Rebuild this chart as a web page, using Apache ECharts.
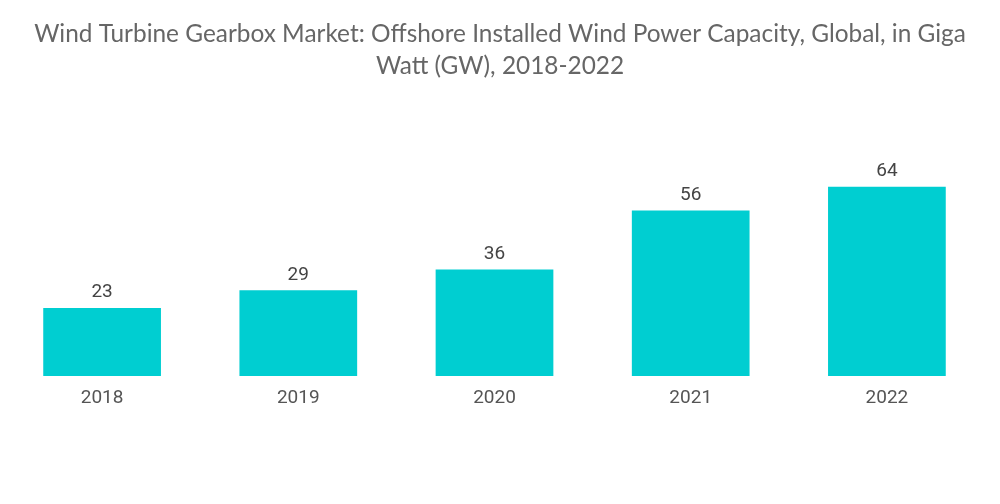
<!DOCTYPE html>
<html><head><meta charset="utf-8">
<script src="https://cdn.jsdelivr.net/npm/echarts@6/dist/echarts.min.js"></script>
<style>html,body{margin:0;padding:0;background:#fff}#c{width:1000px;height:504px}</style>
</head><body><div id="c"></div>
<script>
const categories = ["2018", "2019", "2020", "2021", "2022"];
const values = [23, 29, 36, 56, 64];
const titleText = "Wind Turbine Gearbox Market: Offshore Installed Wind Power Capacity, Global, in Giga\nWatt (GW), 2018-2022";
const chart = echarts.init(document.getElementById('c'));
chart.setOption({
  animation: false,
  title: {
    text: titleText,
    left: 'center',
    top: 13,
    textStyle: { fontFamily: 'Lato', fontWeight: 'normal', fontSize: 24.4, color: '#666', lineHeight: 32 }
  },
  grid: { left: 4, right: 15, top: 138, bottom: 128, containLabel: false },
  xAxis: {
    type: 'category',
    data: categories,
    axisLine: { show: false },
    axisTick: { show: false },
    axisLabel: { fontFamily: 'Roboto', fontSize: 19, color: '#555', margin: 13 }
  },
  yAxis: {
    type: 'value', min: 0, max: 80.5,
    show: false,
    splitLine: { show: false }
  },
  series: [{
    type: 'bar',
    data: values,
    barWidth: '60%',
    itemStyle: { color: '#00CED1' },
    label: { show: true, position: 'top', distance: 6, fontFamily: 'Roboto', fontSize: 19, color: '#444' }
  }]
});
</script></body></html>
